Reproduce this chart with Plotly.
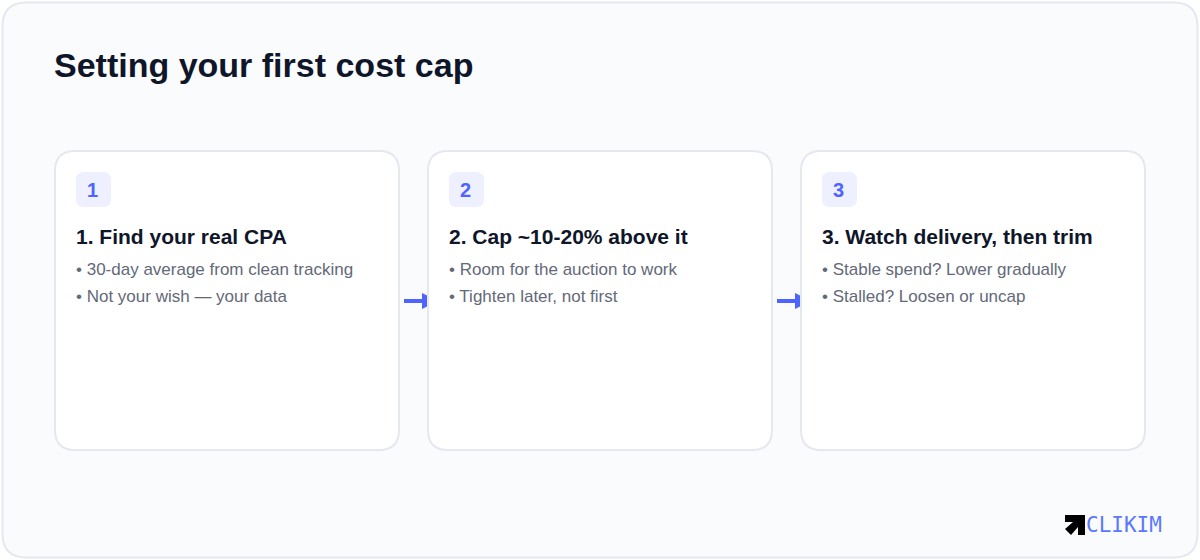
# -*- coding: utf-8 -*-
"""
Setting your first cost cap: three step card diagram
"""
import plotly.graph_objects as go

# Content
title = "Setting your first cost cap"
step_numbers = ["1", "2", "3"]
step_titles = ["1. Find your real CPA", "2. Cap ~10-20% above it", "3. Watch delivery, then trim"]
step_lines_1 = ["• 30-day average from clean tracking", "• Room for the auction to work", "• Stable spend? Lower gradually"]
step_lines_2 = ["• Not your wish — your data", "• Tighten later, not first", "• Stalled? Loosen or uncap"]
logo_text = "CLIKIM"

# Layout
W, H = 1200, 560
card_left = [55, 428, 801]
card_w, card_h = 344, 299
card_top = 151

FONT = "Liberation Sans"
INK = "#0f1629"
BODY = "#636979"
BLUE = "#4f63ff"
LOGO_BLUE = "#5a78ff"
LINE = "#e6e8f0"


def rounded(x0, y0, x1, y1, r):
    return (f"M{x0+r},{y0} L{x1-r},{y0} Q{x1},{y0} {x1},{y0+r} L{x1},{y1-r} Q{x1},{y1} {x1-r},{y1} "
            f"L{x0+r},{y1} Q{x0},{y1} {x0},{y1-r} L{x0},{y0+r} Q{x0},{y0} {x0+r},{y0} Z")


shapes = []
annotations = []


def add_text(x, y, text, size, color, bold=False, anchor="left", family=FONT):
    annotations.append(dict(x=x, y=y, xref="x", yref="y", text=f"<b>{text}</b>" if bold else text,
                            showarrow=False, xanchor=anchor, yanchor="middle",
                            font=dict(family=family, size=size, color=color)))


# Outer panel
shapes.append(dict(type="path", path=rounded(2.5, 2.5, 1197.5, 557.5, 24),
                   fillcolor="#fafbfd", line=dict(color=LINE, width=2), layer="below"))
add_text(52, 64.5, title, 34, INK, bold=True)

# Arrows between the cards, drawn first so the next card hides the arrow tip
for x in card_left[1:]:
    shapes.append(dict(type="rect", x0=x - 24, x1=x, y0=299, y1=303,
                       fillcolor=BLUE, line=dict(width=0), layer="below"))
    shapes.append(dict(type="path", path=f"M{x-6},293 L{x+10},301 L{x-6},309 Z",
                       fillcolor=BLUE, line=dict(width=0), layer="below"))

for i, x in enumerate(card_left):
    shapes.append(dict(type="path", path=rounded(x, card_top, x + card_w, card_top + card_h, 20),
                       fillcolor="#ffffff", line=dict(color=LINE, width=2), layer="below"))
    shapes.append(dict(type="path", path=rounded(x + 21, card_top + 21, x + 56, card_top + 56, 8),
                       fillcolor="#eef0ff", line=dict(width=0), layer="below"))
    add_text(x + 37, card_top + 38.5, step_numbers[i], 20, BLUE, bold=True, anchor="center")
    add_text(x + 19, card_top + 85, step_titles[i], 21, INK, bold=True)
    add_text(x + 19, card_top + 118.5, step_lines_1[i], 17, BODY)
    add_text(x + 19, card_top + 145.5, step_lines_2[i], 17, BODY)

# Logo
shapes.append(dict(type="path",
                   path="M1065,515 L1085,515 L1085,535 L1078,535 L1078,527 L1071,535 L1065,529 L1073,522 L1065,522 Z",
                   fillcolor="#000000", line=dict(width=0)))
add_text(1084, 525, logo_text, 21, LOGO_BLUE, family="DejaVu Sans Mono")

fig = go.Figure()
fig.update_layout(
    width=W, height=H,
    margin=dict(l=0, r=0, t=0, b=0),
    paper_bgcolor="#ffffff", plot_bgcolor="#ffffff",
    xaxis=dict(range=[0, W], visible=False, fixedrange=True),
    yaxis=dict(range=[H, 0], visible=False, fixedrange=True),
    shapes=shapes, annotations=annotations, showlegend=False,
)
# page default margin would shift the figure by 8px
fig.write_html("out.html", config=dict(displayModeBar=False),
               post_script="document.body.style.margin='0';")
